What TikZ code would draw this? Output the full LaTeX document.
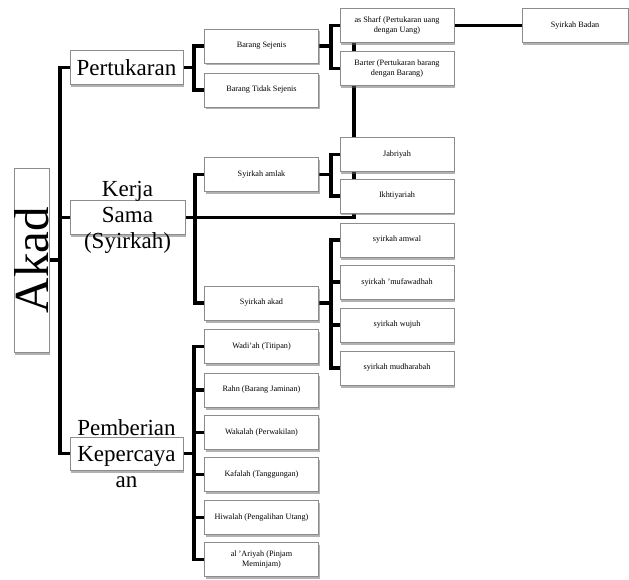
\documentclass[tikz,border=0pt]{standalone}
\usepackage{fontspec}
\setmainfont{Liberation Serif}
\usetikzlibrary{shadows, backgrounds, positioning}

\begin{document}
\begin{tikzpicture}[x=1pt, y=-1pt,
  box/.style={draw=black!45, fill=white, line width=0.6pt, inner sep=1pt, align=center,
    drop shadow={shadow xshift=1.2pt, shadow yshift=-2.5pt, fill=black!60, opacity=0.5}},
  small/.style={box, minimum width=114pt, minimum height=34pt, font=\fontsize{8.2}{9.5}\selectfont},
  big/.style={box, minimum width=113pt, minimum height=34pt, font=\fontsize{23}{26}\selectfont},
  bigtext/.style={font=\fontsize{23}{26}\selectfont, align=center, inner sep=0pt},
  conn/.style={line width=3.8pt}]
  \useasboundingbox (0,0) rectangle (629,580);

  % root
  \node[box, minimum width=35pt, minimum height=184pt, inner sep=0pt,
        font=\fontsize{49}{50}\selectfont] (akad) at (31.5,260) {\rotatebox{90}{Akad}};

  % first level
  \node[big] (pert) at (126.5,67.5) {Pertukaran};
  \node[big, minimum width=115pt] (kerja) at (127.5,217.5)
    {} node[bigtext] (kerjaT) at (kerja.center) {Kerja\\Sama\\(Syirkah)};
  \node[big, minimum height=33pt] (pemb) at (126.5,453.5)
    {} node[bigtext] (pembT) at (pemb.center) {Pemberian\\Kepercaya\\an};

  % second level
  \node[small] (bsej) at (261.5,46) {Barang Sejenis};
  \node[small] (btdk) at (261.5,90) {Barang Tidak Sejenis};
  \node[small] (amlak) at (261.5,174.5) {Syirkah amlak};
  \node[small] (syakad) at (261.5,303) {Syirkah akad};
  \node[small] (wadiah) at (261.5,346.5) {Wadi'ah (Titipan)};
  \node[small] (rahn) at (261.5,390) {Rahn (Barang Jaminan)};
  \node[small] (wakalah) at (261.5,432.5) {Wakalah (Perwakilan)};
  \node[small] (kafalah) at (261.5,474.5) {Kafalah (Tanggungan)};
  \node[small] (hiwalah) at (261.5,517.5) {Hiwalah (Pengalihan Utang)};
  \node[small] (ariyah) at (261.5,559.5) {al 'Ariyah (Pinjam\\Meminjam)};

  % third level
  \node[small] (sharf) at (397,25.5) {as Sharf (Pertukaran uang\\dengan Uang)};
  \node[small] (barter) at (397,68.5) {Barter (Pertukaran barang\\dengan Barang)};
  \node[small] (jabr) at (397,154.5) {Jabriyah};
  \node[small] (ikht) at (397,196) {Ikhtiyariah};
  \node[small] (amwal) at (397,240) {syirkah amwal};
  \node[small] (mufa) at (397,282) {syirkah 'mufawadhah};
  \node[small] (wujuh) at (397,325) {syirkah wujuh};
  \node[small] (mudh) at (397,368) {syirkah mudharabah};
  \node[small, minimum width=106pt] (badan) at (575,25.5) {Syirkah Badan};

  \begin{pgfonlayer}{background}
    % root to first level
    \draw[conn] (akad.east) -- ++(11,0) coordinate (spine);
    \draw[conn] (pert.west) -| (spine) |- (pemb.west);
    \draw[conn] (kerja.west) -- (kerja.west -| spine);
    % Pertukaran
    \foreach \c in {bsej, btdk}
      \draw[conn] (pert.east) -- ++(11,0) |- (\c.west);
    \foreach \c in {sharf, barter}
      \draw[conn] (bsej.east) -- ++(12,0) |- (\c.west);
    \draw[conn] (sharf.east) -- (badan.west);
    % Kerja Sama
    \foreach \c in {amlak, syakad}
      \draw[conn] (kerja.east) -- ++(10,0) |- (\c.west);
    \draw[conn] (kerja.east) -| ([xshift=14pt]sharf.south west);
    \foreach \c in {jabr, ikht}
      \draw[conn] (amlak.east) -- ++(12,0) |- (\c.west);
    \foreach \c in {amwal, mufa, wujuh, mudh}
      \draw[conn] (syakad.east) -- ++(12,0) |- (\c.west);
    % Pemberian Kepercayaan
    \foreach \c in {wadiah, rahn, wakalah, kafalah, hiwalah, ariyah}
      \draw[conn] (pemb.east) -- ++(11,0) |- (\c.west);
  \end{pgfonlayer}
\end{tikzpicture}
\end{document}
